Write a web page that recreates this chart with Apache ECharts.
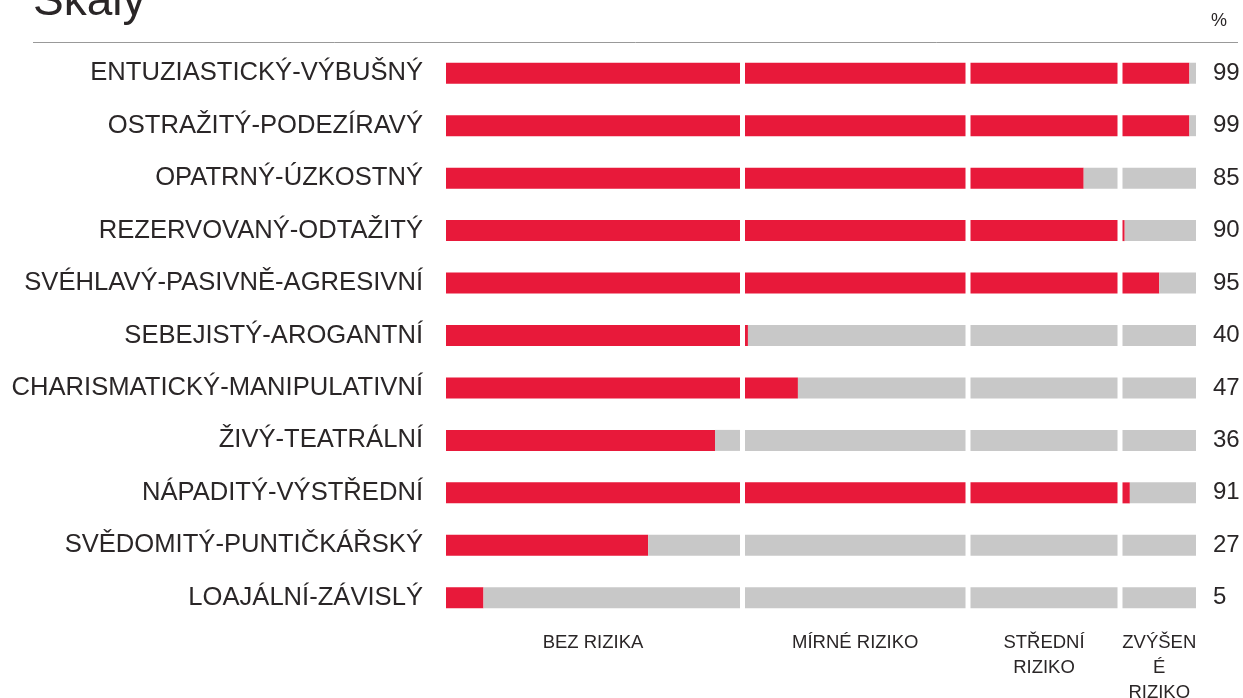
<!DOCTYPE html>
<html>
<head>
<meta charset="utf-8">
<script src="https://cdn.jsdelivr.net/npm/echarts@6/dist/echarts.min.js"></script>
<style>
  html, body { margin: 0; padding: 0; background: #fff; }
  #chart { width: 1243px; height: 698px; }
</style>
</head>
<body>
<div id="chart"></div>
<script>
// scale names (top to bottom)
const scales = [
  "ENTUZIASTICKÝ-VÝBUŠNÝ",
  "OSTRAŽITÝ-PODEZÍRAVÝ",
  "OPATRNÝ-ÚZKOSTNÝ",
  "REZERVOVANÝ-ODTAŽITÝ",
  "SVÉHLAVÝ-PASIVNĚ-AGRESIVNÍ",
  "SEBEJISTÝ-AROGANTNÍ",
  "CHARISMATICKÝ-MANIPULATIVNÍ",
  "ŽIVÝ-TEATRÁLNÍ",
  "NÁPADITÝ-VÝSTŘEDNÍ",
  "SVĚDOMITÝ-PUNTIČKÁŘSKÝ",
  "LOAJÁLNÍ-ZÁVISLÝ"
];
// percentile shown on the right
const percent = [99, 99, 85, 90, 95, 40, 47, 36, 91, 27, 5];
// bar length
const barLength = [99.1, 99.1, 85.4, 90.3, 95, 40.4, 47.2, 36.6, 91, 27.5, 5.1];
// risk bands
const bandNames = ["BEZ RIZIKA", "MÍRNÉ RIZIKO", "STŘEDNÍ\nRIZIKO", "ZVÝŠEN\nÉ\nRIZIKO"];
const bandLimits = [0, 40, 70, 90, 100];

const RED = "#e8193a";
const GREY = "#c8c8c8";
const TEXT = "#2a2627";
const GAP = 0.68; // white gap between bands, in axis units

// build stacked series: red part + grey part per band, transparent gap between
let series = [];
let bandCenters = [];
let offset = 0;
for (let b = 0; b < 4; b++) {
  const lo = bandLimits[b], hi = bandLimits[b + 1];
  bandCenters.push(offset + (hi - lo) / 2);
  offset += hi - lo + GAP;
  const red = barLength.map(v => Math.max(0, Math.min(v - lo, hi - lo)));
  const grey = red.map(r => (hi - lo) - r);
  series.push({
    type: "bar", stack: "s", barWidth: 21, silent: true,
    itemStyle: { color: RED }, data: red
  });
  const greySeries = {
    type: "bar", stack: "s", barWidth: 21, silent: true,
    itemStyle: { color: GREY }, data: grey
  };
  if (b === 3) {
    greySeries.label = {
      show: true, position: "right", distance: 17,
      color: TEXT, fontSize: 24, fontFamily: "Liberation Sans",
      formatter: p => String(percent[p.dataIndex])
    };
  }
  series.push(greySeries);
  if (b < 3) {
    series.push({
      type: "bar", stack: "s", barWidth: 21, silent: true,
      itemStyle: { color: "rgba(0,0,0,0)" }, data: scales.map(() => GAP)
    });
  }
}
const axisMax = 100 + 3 * GAP;

const chart = echarts.init(document.getElementById("chart"));
chart.setOption({
  animation: false,
  backgroundColor: "#fff",
  grid: { left: 446, right: 47, top: 47, bottom: 74, outerBoundsMode: "none" },
  xAxis: {
    type: "value", min: 0, max: axisMax,
    axisLine: { show: false }, axisTick: { show: false }, splitLine: { show: false },
    axisLabel: {
      customValues: bandCenters,
      margin: 6,
      color: TEXT, fontSize: 18.5, lineHeight: 25, fontFamily: "Liberation Sans",
      verticalAlign: "top",
      formatter: v => {
        let best = 0;
        bandCenters.forEach((c, i) => { if (Math.abs(c - v) < Math.abs(bandCenters[best] - v)) best = i; });
        return bandNames[best];
      }
    }
  },
  yAxis: {
    type: "category", data: scales, inverse: true,
    axisLine: { show: false }, axisTick: { show: false },
    axisLabel: { margin: 23, color: TEXT, fontSize: 25.6, fontFamily: "Liberation Sans" }
  },
  graphic: [
    { type: "text", left: 33, top: -21, style: { text: "Škály", font: "46px 'Liberation Sans'", fill: TEXT } },
    { type: "text", x: 1219, y: 21, style: { text: "%", font: "18px 'Liberation Sans'", fill: TEXT, align: "center", verticalAlign: "middle" } },
    { type: "line", shape: { x1: 33, y1: 42.5, x2: 1238, y2: 42.5 }, style: { stroke: "#999", lineWidth: 1 } }
  ],
  series: series
});
</script>
</body>
</html>
